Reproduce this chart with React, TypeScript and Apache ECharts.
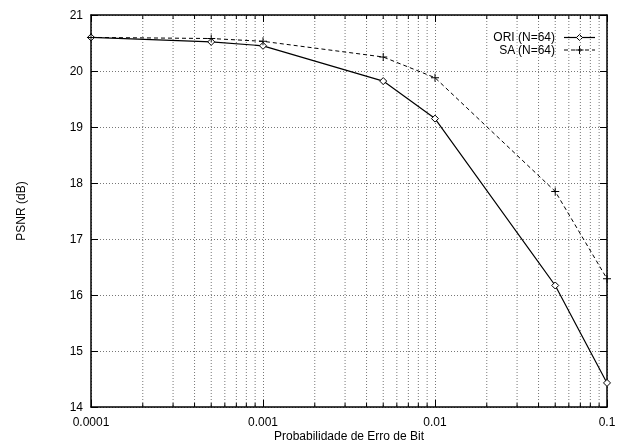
import React, { useEffect, useRef } from "react";
import * as echarts from "echarts";

const xValues = [0.0001, 0.0005, 0.001, 0.005, 0.01, 0.05, 0.1];
const oriValues = [20.6, 20.52, 20.45, 19.82, 19.15, 16.17, 14.43];
const saValues = [20.6, 20.58, 20.53, 20.25, 19.88, 17.85, 16.29];
const xTickLabels = ["0.0001", "0.001", "0.01", "0.1"];
const minorX = [
  0.0002, 0.0003, 0.0004, 0.0005, 0.0006, 0.0007, 0.0008, 0.0009,
  0.002, 0.003, 0.004, 0.005, 0.006, 0.007, 0.008, 0.009,
  0.02, 0.03, 0.04, 0.05, 0.06, 0.07, 0.08, 0.09,
];
const seriesNames = ["ORI (N=64)", "SA (N=64)"];

const FONT = "Liberation Sans, Arial, sans-serif";

export default function App() {
  const ref = useRef<HTMLDivElement>(null);
  useEffect(() => {
    if (!ref.current) return;
    const chart = echarts.init(ref.current, undefined, { renderer: "svg" });
    const fmtX = (v: number) => {
      const e = Math.round(Math.log10(v));
      return xTickLabels[e + 4] ?? "";
    };
    const plusPath = "path://M4.4,0H5.6V4.4H10V5.6H5.6V10H4.4V5.6H0V4.4H4.4Z";
    const gridLine = { show: true, lineStyle: { color: "#777", type: [1, 2] as any, width: 1 } };
    const option: any = {
      animation: false,
      textStyle: { fontFamily: FONT },
      grid: { left: 91, right: 16, top: 15, bottom: 37, containLabel: false, outerBoundsMode: "none" },
      xAxis: [
        {
          type: "log",
          logBase: 10,
          min: 0.0001,
          max: 0.1,
          position: "bottom",
          axisLine: { show: true, lineStyle: { color: "#000", width: 1.5 } },
          axisTick: { show: true, inside: true, length: 7, lineStyle: { color: "#000" } },
          axisLabel: { formatter: fmtX, color: "#000", fontSize: 12, fontFamily: FONT, margin: 9 },
          splitLine: gridLine,
          name: "Probabilidade de Erro de Bit",
          nameLocation: "middle",
          nameGap: 23,
          nameMoveOverlap: false,
          nameTextStyle: { color: "#000", fontSize: 12, fontFamily: FONT, lineHeight: 12, verticalAlign: "top" },
        },
        {
          type: "log",
          logBase: 10,
          min: 0.0001,
          max: 0.1,
          position: "top",
          axisLine: { show: true, lineStyle: { color: "#000", width: 1.5 } },
          axisTick: { show: true, inside: true, length: 7, lineStyle: { color: "#000" } },
          axisLabel: { show: false },
          splitLine: { show: false },
        },
      ],
      yAxis: [
        {
          type: "value",
          min: 14,
          max: 21,
          interval: 1,
          position: "left",
          axisLine: { show: true, lineStyle: { color: "#000", width: 1.5 } },
          axisTick: { show: true, inside: true, length: 7, lineStyle: { color: "#000" } },
          axisLabel: { color: "#000", fontSize: 12, fontFamily: FONT, margin: 8 },
          splitLine: gridLine,
          name: "PSNR (dB)",
          nameLocation: "middle",
          nameGap: 64,
          nameRotate: 90,
          nameMoveOverlap: false,
          nameTextStyle: { color: "#000", fontSize: 12, fontFamily: FONT },
        },
        {
          type: "value",
          min: 14,
          max: 21,
          interval: 1,
          position: "right",
          axisLine: { show: true, lineStyle: { color: "#000", width: 1.5 } },
          axisTick: { show: true, inside: true, length: 7, lineStyle: { color: "#000" } },
          axisLabel: { show: false },
          splitLine: { show: false },
        },
      ],
      series: [
        {
          type: "custom",
          silent: true,
          xAxisIndex: 0,
          yAxisIndex: 0,
          data: minorX.map((v) => [v, 14]),
          encode: { x: 0, y: 1 },
          z: 1,
          renderItem: (params: any, api: any) => {
            const x = api.coord([api.value(0), 14])[0];
            const cs = params.coordSys;
            const top = cs.y;
            const bottom = cs.y + cs.height;
            return {
              type: "group",
              children: [
                {
                  type: "line",
                  shape: { x1: x, y1: top, x2: x, y2: bottom },
                  style: { stroke: "#777", lineWidth: 1, lineDash: [1, 2] },
                },
                {
                  type: "line",
                  shape: { x1: x, y1: bottom - 4, x2: x, y2: bottom },
                  style: { stroke: "#000", lineWidth: 1 },
                },
                {
                  type: "line",
                  shape: { x1: x, y1: top, x2: x, y2: top + 4 },
                  style: { stroke: "#000", lineWidth: 1 },
                },
              ],
            };
          },
        },
        {
          name: seriesNames[0],
          type: "line",
          data: xValues.map((x, i) => [x, oriValues[i]]),
          lineStyle: { color: "#000", width: 1.2 },
          symbol: "diamond",
          symbolSize: 7,
          itemStyle: { color: "#fff", borderColor: "#000", borderWidth: 1 },
          z: 3,
        },
        {
          name: seriesNames[1],
          type: "line",
          data: xValues.map((x, i) => [x, saValues[i]]),
          lineStyle: { color: "#000", width: 1, type: [4, 3] },
          symbol: plusPath,
          symbolSize: 8,
          itemStyle: { color: "#000", borderWidth: 0 },
          z: 3,
        },
      ],
      graphic: [
        {
          type: "text",
          right: 68,
          top: 31,
          style: { text: seriesNames[0], fill: "#000", font: `12px ${FONT}`, lineHeight: 12, textAlign: "right" },
        },
        {
          type: "text",
          right: 68,
          top: 44,
          style: { text: seriesNames[1], fill: "#000", font: `12px ${FONT}`, lineHeight: 12, textAlign: "right" },
        },
        {
          type: "line",
          shape: { x1: 564, y1: 37.5, x2: 595, y2: 37.5 },
          style: { stroke: "#000", lineWidth: 1.2 },
        },
        {
          type: "polygon",
          shape: { points: [[579.5, 34.5], [582.5, 37.5], [579.5, 40.5], [576.5, 37.5]] },
          style: { fill: "#fff", stroke: "#000", lineWidth: 1 },
        },
        {
          type: "line",
          shape: { x1: 564, y1: 50, x2: 595, y2: 50 },
          style: { stroke: "#000", lineWidth: 1, lineDash: [4, 3] },
        },
        {
          type: "line",
          shape: { x1: 579.5, y1: 46, x2: 579.5, y2: 54 },
          style: { stroke: "#000", lineWidth: 1 },
        },
        {
          type: "line",
          shape: { x1: 575.5, y1: 50, x2: 583.5, y2: 50 },
          style: { stroke: "#000", lineWidth: 1 },
        },
      ],
    };
    chart.setOption(option);
    return () => chart.dispose();
  }, []);
  return (
    <div
      ref={ref}
      style={{ position: "fixed", left: 0, top: 0, width: 623, height: 444 }}
    />
  );
}
